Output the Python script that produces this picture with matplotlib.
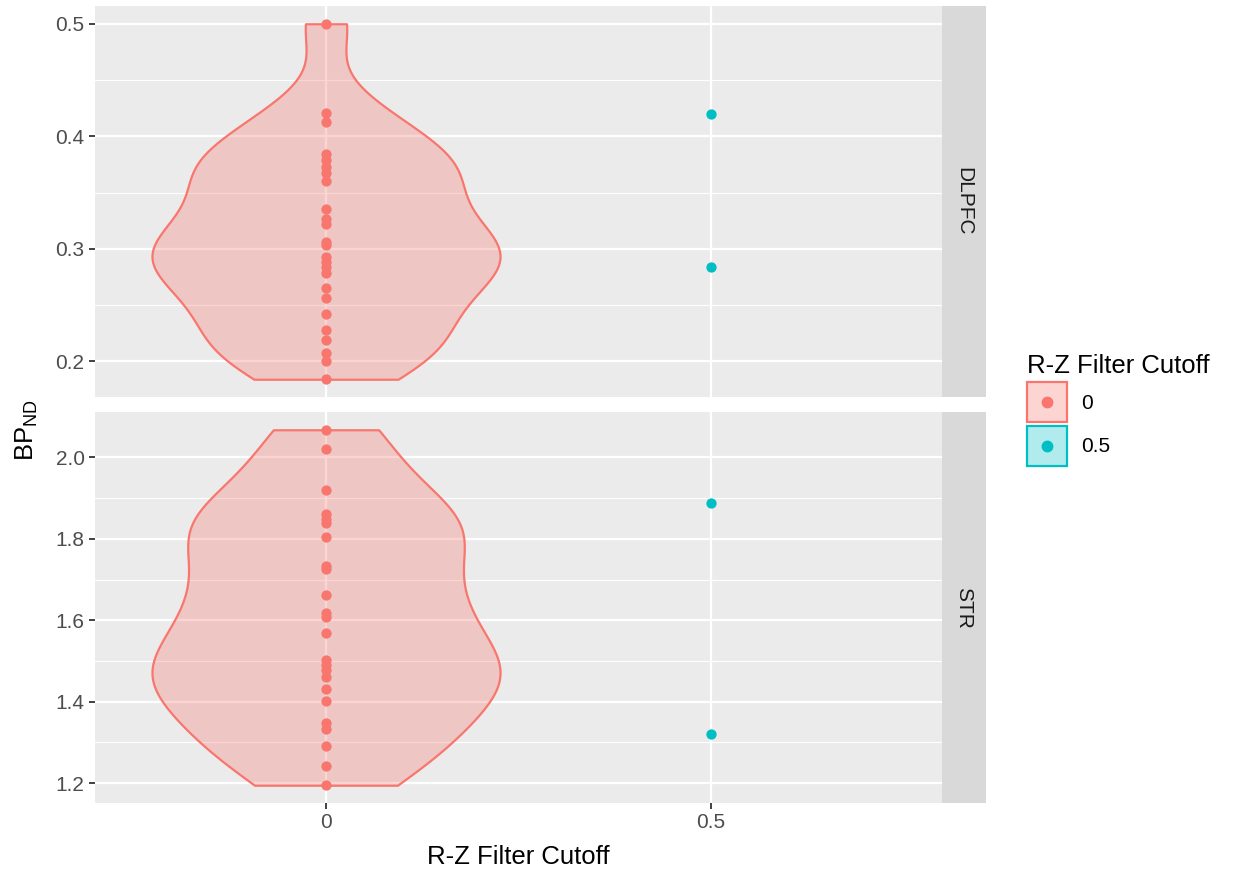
import numpy as np
import matplotlib.pyplot as plt
from matplotlib.patches import Rectangle
from matplotlib.lines import Line2D

plt.rcParams['font.family'] = ['Liberation Sans', 'DejaVu Sans']
plt.rcParams['mathtext.fontset'] = 'custom'
plt.rcParams['mathtext.rm'] = 'Liberation Sans'
plt.rcParams['mathtext.it'] = 'Liberation Sans'

regions = ["DLPFC", "STR"]

dlpfc_0 = [0.500, 0.421, 0.413, 0.384, 0.379, 0.373, 0.367, 0.360, 0.335, 0.326,
           0.322, 0.306, 0.303, 0.293, 0.288, 0.284, 0.278, 0.265, 0.256, 0.242,
           0.228, 0.219, 0.207, 0.200, 0.184]
dlpfc_05 = [0.420, 0.284]

str_0 = [2.068, 2.021, 1.921, 1.861, 1.850, 1.839, 1.805, 1.733, 1.725, 1.662,
         1.619, 1.609, 1.569, 1.503, 1.491, 1.479, 1.462, 1.432, 1.401, 1.348,
         1.332, 1.291, 1.241, 1.195]
str_05 = [1.887, 1.322]

data = {"DLPFC": (dlpfc_0, dlpfc_05), "STR": (str_0, str_05)}

yticks = {"DLPFC": [0.2, 0.3, 0.4, 0.5], "STR": [1.2, 1.4, 1.6, 1.8, 2.0]}
yminor = {"DLPFC": [0.25, 0.35, 0.45], "STR": [1.3, 1.5, 1.7, 1.9]}

cutoffs = ["0", "0.5"]
red = "#F8766D"
teal = "#00BFC4"
panel_bg = "#EBEBEB"
adjust = 0.8


def nrd0_factor(x):
    x = np.asarray(x)
    sd = x.std(ddof=1)
    iqr = np.subtract(*np.percentile(x, [75, 25]))
    bw = 0.9 * min(sd, iqr / 1.34) * len(x) ** (-0.2)
    return adjust * bw / sd


class KeyHandler:
    # ggplot-style legend key: light filled box with a dot in the middle
    def __init__(self, color):
        self.color = color

    def legend_artist(self, legend, orig_handle, fontsize, handlebox):
        x0, y0 = handlebox.xdescent, handlebox.ydescent
        w, h = handlebox.width, handlebox.height
        tr = handlebox.get_transform()
        rect = Rectangle((-x0, -y0), w, h, facecolor=self.color, alpha=None,
                         edgecolor=self.color, linewidth=1.6, transform=tr)
        rect.set_facecolor(plt.matplotlib.colors.to_rgba(self.color, 0.3))
        dot = Line2D([-x0 + w / 2], [-y0 + h / 2], marker='o', linestyle='',
                     color=self.color, markersize=7.5, transform=tr)
        handlebox.add_artist(rect)
        handlebox.add_artist(dot)
        return rect


fig = plt.figure(figsize=(12.33, 8.74), dpi=100)
W, H = 1233, 874
left, right = 95, 942
tops = [6, 412]
ph = 391

for i, reg in enumerate(regions):
    y0, y1 = data[reg]
    top = tops[i]
    ax = fig.add_axes([left / W, 1 - (top + ph) / H, (right - left) / W, ph / H])
    ax.set_facecolor(panel_bg)
    for s in ax.spines.values():
        s.set_visible(False)

    vp = ax.violinplot([y0], positions=[0], widths=0.452, showextrema=False,
                       bw_method=nrd0_factor(y0), points=512)
    for b in vp['bodies']:
        b.set_alpha(None)
        b.set_facecolor((248 / 255, 118 / 255, 109 / 255, 0.3))
        b.set_edgecolor(red)
        b.set_linewidth(1.6)
        b.set_zorder(3)

    ax.scatter(np.zeros(len(y0)), y0, s=55, color=red, zorder=4, linewidths=0)
    ax.scatter(np.full(len(y1), 0.5), y1, s=55, color=teal, zorder=4, linewidths=0)

    allv = y0 + y1
    lo, hi = min(allv), max(allv)
    pad = (hi - lo) * 0.05
    ax.set_ylim(lo - pad, hi + pad)
    ax.set_xlim(-0.3, 0.8)

    ax.set_yticks(yticks[reg])
    ax.set_yticklabels([f"{v:.1f}" for v in yticks[reg]])
    ax.set_yticks(yminor[reg], minor=True)
    ax.set_xticks([0, 0.5])
    ax.grid(True, which='major', color='white', linewidth=1.6, zorder=0)
    ax.grid(True, which='minor', axis='y', color='white', linewidth=0.8, zorder=0)
    ax.set_axisbelow(True)
    ax.tick_params(axis='both', which='major', length=4.5, width=1.3, color='#333333',
                   labelsize=15, labelcolor='#4D4D4D', pad=3)
    ax.tick_params(axis='y', which='minor', length=0)
    if i == 0:
        ax.tick_params(axis='x', which='both', length=0, labelbottom=False)
    else:
        ax.set_xticklabels(cutoffs)

    sax = fig.add_axes([right / W, 1 - (top + ph) / H, 44 / W, ph / H])
    sax.set_facecolor('#D9D9D9')
    sax.set_xticks([])
    sax.set_yticks([])
    for s in sax.spines.values():
        s.set_visible(False)
    sax.text(0.5, 0.5, reg, rotation=-90, ha='center', va='center',
             fontsize=15, color='#1A1A1A', transform=sax.transAxes)

fig.text(518 / W, 1 - 857 / H, "R-Z Filter Cutoff", ha='center', va='center',
         fontsize=18.5, color='black')
fig.text(27 / W, 1 - 430 / H, r"BP$_{\mathrm{ND}}$", ha='center', va='center',
         rotation=90, fontsize=18.5, color='black')

h0 = Rectangle((0, 0), 1, 1)
h1 = Rectangle((0, 0), 1, 1)
leg = fig.legend([h0, h1], cutoffs, title="R-Z Filter Cutoff",
                 handler_map={h0: KeyHandler(red), h1: KeyHandler(teal)},
                 loc='center left', bbox_to_anchor=(1027 / W, 1 - 410 / H),
                 frameon=False, fontsize=15, title_fontsize=18.5,
                 handlelength=1.9, handleheight=2.55, labelspacing=0.2,
                 handletextpad=0.7, borderpad=0, borderaxespad=0, alignment='left')

fig.savefig("out.png", dpi=100)
